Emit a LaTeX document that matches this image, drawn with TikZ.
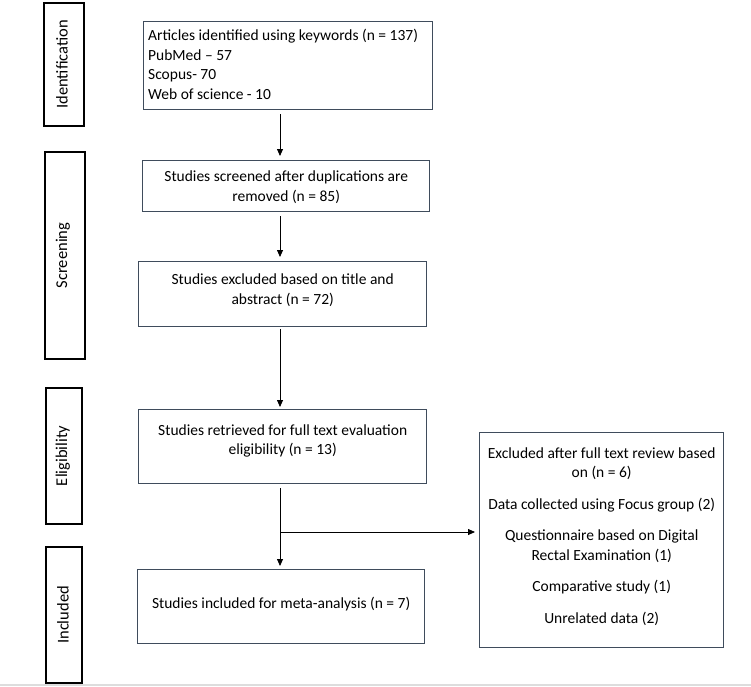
\documentclass[tikz,border=0pt]{standalone}
\usepackage{fontspec}
\setmainfont{Carlito}
\usetikzlibrary{arrows.meta,positioning}
\definecolor{boxline}{HTML}{3F4C5C}
\definecolor{sepline}{HTML}{DDDDDD}
\tikzset{
  x=1pt,y=-1pt,
  stage/.style={draw=black,line width=1.8pt,inner sep=0pt,anchor=north west},
  stagetext/.style={font=\fontsize{16.5}{19}\selectfont,rotate=90},
  flowbox/.style={draw=boxline,line width=1.4pt,inner sep=0pt,anchor=north west},
  flowtext/.style={inner sep=0pt,font=\fontsize{15.5}{19.5}\selectfont,align=center},
  flowarrow/.style={draw=black,line width=0.8pt,-{Triangle[length=7pt,width=6pt]}},
}
\begin{document}
\begin{tikzpicture}
\useasboundingbox (0,0) rectangle (751,686);
\fill[white] (0,0) rectangle (751,686);
\draw[sepline,line width=1.5pt] (0,685) -- (751,685);
% stage boxes
\node[stage,minimum width=40pt,minimum height=123pt] (sid) at (43,2) {};
\node[stagetext] (sidt) at ([xshift=-2pt]sid.center) {Identification};
\node[stage,minimum width=40pt,minimum height=207pt] (ssc) at (44,151) {};
\node[stagetext] (ssct) at ([xshift=-2pt]ssc.center) {Screening};
\node[stage,minimum width=36pt,minimum height=136pt] (sel) at (45,387) {};
\node[stagetext] (selt) at ([xshift=-1pt]sel.center) {Eligibility};
\node[stage,minimum width=36pt,minimum height=136pt] (sin) at (45,546) {};
\node[stagetext] (sint) at ([xshift=-1pt]sin.center) {Included};
% flow boxes
\node[flowbox,minimum width=289pt,minimum height=88pt] (b1) at (143,21) {};
\node[flowtext,anchor=north west,align=left] (b1t) at (148,29)
  {Articles identified using keywords (n = 137)\\PubMed -- 57\\Scopus- 70\\Web of science - 10};
\node[flowbox,minimum width=287pt,minimum height=51pt] (b2) at (142,160) {};
\node[flowtext] (b2t) at ([yshift=-1pt]b2.center)
  {Studies screened after duplications are\\removed (n = 85)};
\node[flowbox,minimum width=288pt,minimum height=65pt] (b3) at (138,261) {};
\node[flowtext] (b3t) at ([yshift=4pt]b3.center)
  {Studies excluded based on title and\\abstract (n = 72)};
\node[flowbox,minimum width=288pt,minimum height=74pt] (b4) at (138,409) {};
\node[flowtext] (b4t) at ([yshift=6pt]b4.center)
  {Studies retrieved for full text evaluation\\eligibility (n = 13)};
\node[flowbox,minimum width=287pt,minimum height=74pt] (b5) at (137,569) {};
\node[flowtext] (b5t) at ([yshift=3pt]b5.center)
  {Studies included for meta-analysis (n = 7)};
\node[flowbox,minimum width=244pt,minimum height=215pt] (b6) at (479,432) {};
\node[flowtext] (b6t) at ([yshift=4pt]b6.center)
  {Excluded after full text review based\\on (n = 6)\\[12pt]
   Data collected using Focus group (2)\\[12pt]
   Questionnaire based on Digital\\Rectal Examination (1)\\[12pt]
   Comparative study (1)\\[12pt]
   Unrelated data (2)};
% connectors
\coordinate (ax) at (280,0);
\coordinate (j) at (280,532);
\draw[flowarrow] ([yshift=-4pt]b1.south -| ax) -- ([yshift=4pt]b2.north -| ax);
\draw[flowarrow] ([yshift=-4pt]b2.south -| ax) -- ([yshift=4pt]b3.north -| ax);
\draw[flowarrow] ([yshift=-2pt]b3.south -| ax) -- ([yshift=2pt]b4.north -| ax);
\draw[flowarrow] ([yshift=-4pt]b4.south -| ax) -- ([yshift=3pt]b5.north -| ax);
\draw[flowarrow] (j) -- ([xshift=-4pt]b6.west |- j);
\end{tikzpicture}
\end{document}
